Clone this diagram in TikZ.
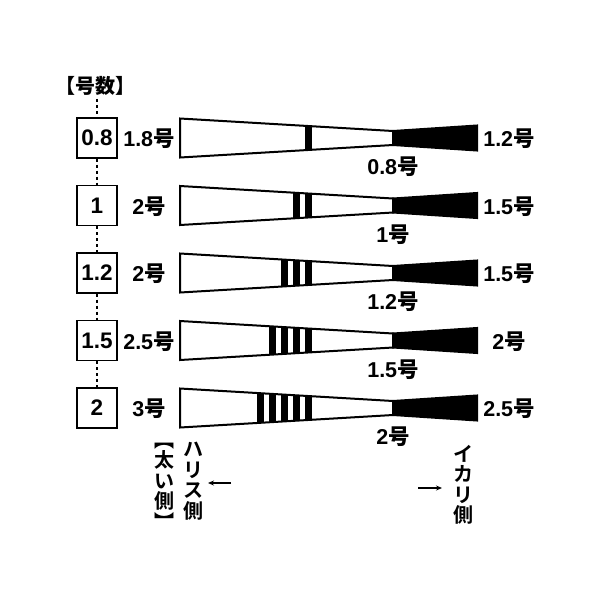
\documentclass[tikz,border=0pt]{standalone}
\usepackage{fontspec}
\setmainfont{Liberation Sans}
\newfontfamily\jp{Noto Sans CJK JP Bold}
\usetikzlibrary{arrows.meta}
\newcommand\gou[1]{#1{\jp 号}}
\tikzset{
  numbox/.style={draw, line width=1.3pt, minimum size=40pt, inner sep=0pt, font=\fontsize{22.5}{22.5}\selectfont\bfseries},
  lbl/.style={inner sep=0pt},
  dotline/.style={line width=2pt, dash pattern=on 3pt off 3pt},
  outl/.style={line width=2pt, line join=miter},
  vtext/.style={align=center, inner sep=0pt, font=\jp\fontsize{20}{20.5}\selectfont},
  arr/.style={line width=1.2pt, -{Stealth[length=6pt,width=5pt]}}
}
\begin{document}
\begin{tikzpicture}[x=1pt,y=-1pt,font=\fontsize{21.5}{21.5}\selectfont\bfseries]
\useasboundingbox (0,0) rectangle (600,600);
\node[lbl] (head) at (95,86) {\jp\fontsize{20}{20}\selectfont 【号数】};
% rows: y, stripes, box, left, bottom, right
\foreach \yy/\k/\bx/\lf/\bt/\rt/\n in {
  138/1/0.8/1.8/0.8/1.2/1,
  205.5/2/1/2/1/1.5/2,
  273/3/1.2/2/1.2/1.5/3,
  340.5/4/1.5/2.5/1.5/2/4,
  408/5/2/3/2/2.5/5}{
  \node[numbox] (b\n) at (97,\yy) {\bx};
  \node[lbl] (l\n) at (149,\yy+1) {\gou{\lf}};
  \node[lbl] (r\n) at (509,\yy+1) {\gou{\rt}};
  \node[lbl] (m\n) at (393,\yy+29) {\gou{\bt}};
  \fill[white] (180,\yy-19.5) -- (393,\yy-7) -- (393,\yy+7) -- (180,\yy+19.5) -- cycle;
  \begin{scope}
    \clip (180,\yy-19.5) -- (393,\yy-7) -- (393,\yy+7) -- (180,\yy+19.5) -- cycle;
    \foreach \j in {1,...,\k}{
      \fill[black] ({312-7-12*(\j-1)},\yy-25) rectangle ({312-12*(\j-1)},\yy+25);
    }
  \end{scope}
  \draw[outl] (180,\yy-19.5) -- (393,\yy-7) -- (393,\yy+7) -- (180,\yy+19.5) -- cycle;
  \filldraw[outl,fill=black] (393,\yy-7) -- (477,\yy-12.5) -- (477,\yy+12.5) -- (393,\yy+7) -- cycle;
}
\draw[dotline] (head.south -| b1.north) ++(0,3) -- (b1.north);
\draw[dotline] (b1.south) -- (b2.north);
\draw[dotline] (b2.south) -- (b3.north);
\draw[dotline] (b3.south) -- (b4.north);
\draw[dotline] (b4.south) -- (b5.north);
\node[vtext] (taii) at (164,486) {︻\\太\\い\\側\\︼};
\node[vtext] (haris) at (193,481) {ハ\\リ\\ス\\側};
\node[vtext] (ikari) at (463,485) {イ\\カ\\リ\\側};
\coordinate (la1) at (231,483);
\coordinate (la2) at (208,483);
\coordinate (ra1) at (418,488);
\coordinate (ra2) at (442,488);
\draw[arr] (la1) -- (la2);
\draw[arr] (ra1) -- (ra2);
\end{tikzpicture}
\end{document}
